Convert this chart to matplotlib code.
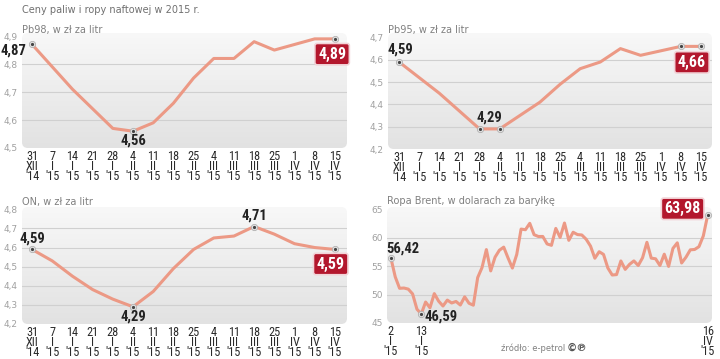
import matplotlib
matplotlib.use("Agg")
import matplotlib.pyplot as plt
import numpy as np
from matplotlib.colors import LinearSegmentedColormap
from matplotlib.patches import FancyBboxPatch
from matplotlib.ticker import FuncFormatter

# ---- dane ----
week_labels = ["31\nXII\n'14", "7\nI\n'15", "14\nI\n'15", "21\nI\n'15", "28\nI\n'15",
               "4\nII\n'15", "11\nII\n'15", "18\nII\n'15", "25\nII\n'15", "4\nIII\n'15",
               "11\nIII\n'15", "18\nIII\n'15", "25\nIII\n'15", "1\nIV\n'15", "8\nIV\n'15",
               "15\nIV\n'15"]

pb98 = [4.87, 4.79, 4.71, 4.64, 4.57, 4.56, 4.59, 4.66, 4.75, 4.82, 4.82, 4.88, 4.85, 4.87, 4.89, 4.89]
pb95 = [4.59, 4.52, 4.45, 4.37, 4.29, 4.29, 4.35, 4.41, 4.49, 4.56, 4.59, 4.65, 4.62, 4.64, 4.66, 4.66]
on = [4.59, 4.53, 4.45, 4.38, 4.33, 4.29, 4.37, 4.49, 4.59, 4.65, 4.66, 4.71, 4.67, 4.62, 4.60, 4.59]

brent = [56.42, 53.11, 51.10, 51.15, 50.96, 50.11, 47.43, 46.59, 48.69, 47.67, 50.17, 48.84,
         47.99, 49.03, 48.52, 48.79, 48.16, 49.60, 48.47, 48.13, 52.99,
         54.75, 57.91, 54.16, 56.57, 57.80, 58.34, 56.43, 54.66, 57.05, 61.52, 61.40, 62.53,
         60.53, 60.21, 60.22, 58.90, 58.66, 61.63, 60.05, 62.58,
         59.54, 60.96, 60.55, 60.48, 59.73, 58.53, 56.39, 57.54, 57.06, 54.67, 53.44, 53.51,
         55.91, 54.43, 55.32, 55.92, 55.11, 56.48, 59.19, 56.41, 56.29, 55.11,
         57.10, 54.95, 58.12, 59.10, 55.55, 56.57, 57.87, 57.93, 58.43, 60.32, 63.98]
brent_ticks = [0, 7, 73]
brent_labels = ["2\nI\n'15", "13\nI\n'15", "16\nIV\n'15"]

LINE = "#ec9985"
RED = "#b3172d"
COND = ["Liberation Sans Narrow", "Roboto Condensed", "DejaVu Sans"]
bg_cmap = LinearSegmentedColormap.from_list("bg", ["#e2e2e2", "#f8f8f8"])

fig = plt.figure(figsize=(7.2, 3.59), dpi=100)
W, H = 720, 359


def make_ax(x0, y0, x1, y1):
    # współrzędne w pikselach obrazka (y od góry)
    return fig.add_axes([x0 / W, 1 - y1 / H, (x1 - x0) / W, (y1 - y0) / H])


def style_ax(ax, ylim, yticks, xlim, xticks, xlabels, fmt):
    ax.set_facecolor("none")
    for s in ax.spines.values():
        s.set_visible(False)
    bbox = ax.get_position()
    aspect = (bbox.width * W) / (bbox.height * H)
    patch = FancyBboxPatch((0, 0), 1, 1, boxstyle="round,pad=0,rounding_size=0.018",
                           mutation_aspect=aspect, transform=ax.transAxes,
                           fc="none", ec="none")
    ax.add_patch(patch)
    grad = np.linspace(0, 1, 256).reshape(-1, 1)
    im = ax.imshow(grad, extent=[0, 1, 0, 1], transform=ax.transAxes, aspect="auto",
                   cmap=bg_cmap, origin="lower", zorder=0)
    im.set_clip_path(patch)
    for yv in yticks[1:-1]:
        ax.axhline(yv, color="#d0d0d0", lw=0.8, zorder=1)
    ax.set_ylim(*ylim)
    ax.set_xlim(*xlim)
    ax.set_yticks(yticks)
    ax.yaxis.set_major_formatter(FuncFormatter(fmt))
    ax.set_xticks(xticks)
    ax.set_xticklabels(xlabels, family=COND, fontsize=8.8, color="#2a2a2a", linespacing=0.72)
    ax.tick_params(axis="both", length=0)
    ax.tick_params(axis="x", pad=1.5)
    ax.tick_params(axis="y", pad=3, labelsize=6.5, labelcolor="#a0a0a0")


def marker(ax, x, y):
    ax.plot(x, y, "o", ms=4.5, mfc="#e4e4e4", mec="#b0b0b0", mew=0.6, zorder=4)
    ax.plot(x, y, "o", ms=1.3, color="#444444", zorder=5)


def label(ax, x, y, txt, dx, dy, ha="center"):
    ax.annotate(txt, (x, y), xytext=(dx, dy), textcoords="offset points", ha=ha,
                va="center", family=COND, fontweight="bold", fontsize=10.5,
                color="#222222", zorder=6)


def red_label(ax, x, y, txt, dx, dy):
    ax.annotate(txt, (x, y), xytext=(dx, dy), textcoords="offset points", ha="center",
                va="center", family=COND, fontweight="bold", fontsize=11.5, color="white",
                zorder=7,
                bbox=dict(boxstyle="round,pad=0.2,rounding_size=0.15", fc=RED,
                          ec="#f2d3d7", lw=1.2))


fmt1 = lambda v, p: f"{v:.1f}".replace(".", ",")
fmt0 = lambda v, p: f"{v:.0f}"
fmt2 = lambda v: f"{v:.2f}".replace(".", ",")
idx = np.arange(len(week_labels))

fig.text(22 / W, 1 - 10 / H, "Ceny paliw i ropy naftowej w 2015 r.", fontsize=7,
         color="#707070", va="center", ha="left")

# ---- Pb98 ----
ax1 = make_ax(22, 33, 347, 148)
style_ax(ax1, (4.5, 4.911), [4.5, 4.6, 4.7, 4.8, 4.9], (-0.5, 15.6), idx, week_labels, fmt1)
ax1.plot(idx, pb98, color=LINE, lw=2.2, zorder=3, solid_capstyle="round")
for i in (0, 5, 15):
    marker(ax1, i, pb98[i])
label(ax1, 0, pb98[0], fmt2(pb98[0]), -4, -4.5, ha="right")
label(ax1, 5, pb98[5], fmt2(pb98[5]), 0, -6.5)
red_label(ax1, 15, pb98[15], fmt2(pb98[15]), -2, -11)
fig.text(22 / W, 1 - 30 / H, "Pb98, w zł za litr", fontsize=7, color="#808080", va="center")

# ---- Pb95 ----
ax2 = make_ax(388, 33, 712, 149)
style_ax(ax2, (4.2, 4.72), [4.2, 4.3, 4.4, 4.5, 4.6, 4.7], (-0.55, 15.55), idx, week_labels, fmt1)
ax2.plot(idx, pb95, color=LINE, lw=2.2, zorder=3, solid_capstyle="round")
for i in (0, 4, 5, 14, 15):
    marker(ax2, i, pb95[i])
label(ax2, 0, pb95[0], fmt2(pb95[0]), 1, 9)
label(ax2, 4.5, pb95[4], fmt2(pb95[4]), 0, 8)
red_label(ax2, 15, pb95[15], fmt2(pb95[15]), -6.5, -11.5)
fig.text(388 / W, 1 - 30 / H, "Pb95, w zł za litr", fontsize=7, color="#808080", va="center")

# ---- ON ----
ax3 = make_ax(22, 207, 347, 324)
style_ax(ax3, (4.2, 4.812), [4.2, 4.3, 4.4, 4.5, 4.6, 4.7, 4.8], (-0.5, 15.6), idx, week_labels, fmt1)
ax3.plot(idx, on, color=LINE, lw=2.2, zorder=3, solid_capstyle="round")
for i in (0, 5, 11, 15):
    marker(ax3, i, on[i])
label(ax3, 0, on[0], fmt2(on[0]), 0, 7.5)
label(ax3, 5, on[5], fmt2(on[5]), 0, -7)
label(ax3, 11, on[11], fmt2(on[11]), 0, 8)
red_label(ax3, 15, on[15], fmt2(on[15]), -3, -10.5)
fig.text(22 / W, 1 - 202 / H, "ON, w zł za litr", fontsize=7, color="#808080", va="center")

# ---- Brent ----
bidx = np.arange(len(brent))
ax4 = make_ax(387, 207, 712, 323)
style_ax(ax4, (45, 65.4), [45, 50, 55, 60, 65], (-0.9, 74.0), brent_ticks, brent_labels, fmt0)
ax4.plot(bidx, brent, color=LINE, lw=2.2, zorder=3, solid_joinstyle="round")
for i in (0, 7, 73):
    marker(ax4, i, brent[i])
label(ax4, 0, brent[0], fmt2(brent[0]), -3, 7, ha="left")
label(ax4, 7, brent[7], fmt2(brent[7]), 2.5, -2, ha="left")
red_label(ax4, 73, brent[73], fmt2(brent[73]), -18, 4.5)
fig.text(387 / W, 1 - 201 / H, "Ropa Brent, w dolarach za baryłkę", fontsize=7, color="#808080",
         va="center")

fig.text(533 / W, 1 - 348 / H, "źródło: e-petrol", fontsize=6, color="#808080", ha="center",
         va="center")
fig.text(577 / W, 1 - 348 / H, "©℗", fontsize=7.5, color="#555555", ha="center", va="center",
         fontweight="bold")

fig.savefig("out.png", dpi=100)
